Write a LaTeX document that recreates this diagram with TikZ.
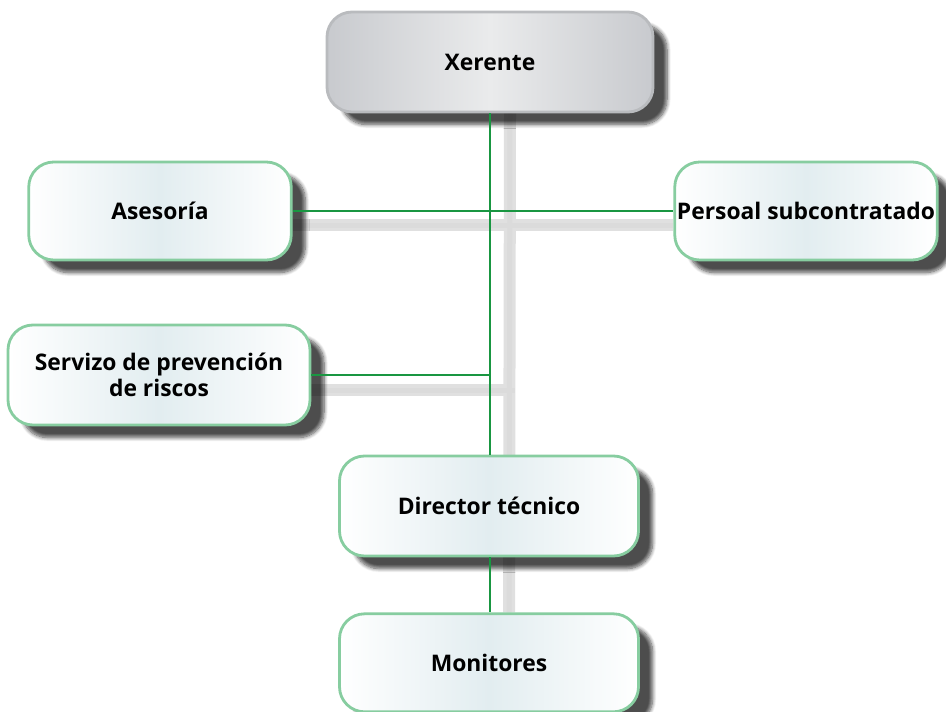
\documentclass[tikz,border=0pt]{standalone}
\usepackage{fontspec}
\setmainfont{Open Sans}
\usepackage{tikz}
\usetikzlibrary{positioning,shadows,shadows.blur,backgrounds}
\definecolor{orggreen}{RGB}{25,150,65}
\definecolor{orgborder}{RGB}{135,205,160}
\definecolor{orgfill}{RGB}{226,237,240}
\definecolor{orggray}{RGB}{200,202,206}
\definecolor{orggraymid}{RGB}{234,235,236}
\definecolor{orggrayline}{RGB}{185,187,190}
\tikzstyle{unitbox} = [rectangle, rounded corners=0.5cm, minimum width=5.25cm, minimum height=1.96cm, align=center, inner xsep=0pt, draw=orgborder, line width=1.6pt, left color=white, right color=white, middle color=orgfill, font=\bfseries\fontsize{13}{15}\selectfont, blur shadow={shadow xshift=0.28cm, shadow yshift=-0.25cm, shadow blur steps=8, shadow opacity=70}]
\tikzstyle{headbox} = [unitbox, draw=orggrayline, left color=orggray, right color=orggray, middle color=orggraymid]
\tikzstyle{link} = [line width=1.6pt, color=orggreen]
\tikzstyle{linkshadow} = [line width=0.24cm, color=black!12]
\tikzstyle{linkshadowcore} = [line width=0.1cm, color=black!14]

\begin{document}
\begin{tikzpicture}
\useasboundingbox (0,0) rectangle (18.92,14.22);
% Top level
\node[headbox, minimum width=6.52cm, minimum height=2cm] (xerente) at (9.8,12.98) {Xerente};

% Staff units
\node[unitbox] (asesoria) at (3.2,10.0) {Asesoría};
\node[unitbox] (persoal) at (16.12,10.0) {Persoal subcontratado};
\node[unitbox, minimum width=6.04cm, minimum height=2cm] (servizo) at (3.18,6.72) {Servizo de prevención\\de riscos};

% Line units
\node[unitbox, minimum width=5.98cm, minimum height=2cm] (director) at (9.78,4.1) {Director técnico};
\node[unitbox, minimum width=5.98cm, minimum height=1.96cm, below=1.1cm of director] (monitores) {Monitores};

% Shadows of the connections
\begin{scope}[on background layer]
\draw[linkshadow] ([xshift=0.4cm]xerente.south) -- ([xshift=0.4cm]monitores.north);
\draw[linkshadow] ([yshift=-0.28cm]asesoria.east) -- ([yshift=-0.28cm]persoal.west);
\draw[linkshadow] ([yshift=-0.3cm]servizo.east) -- ([xshift=0.5cm,yshift=-0.3cm]servizo.east -| xerente.south);
\draw[linkshadowcore] ([xshift=0.4cm]xerente.south) -- ([xshift=0.4cm]monitores.north);
\draw[linkshadowcore] ([yshift=-0.28cm]asesoria.east) -- ([yshift=-0.28cm]persoal.west);
\draw[linkshadowcore] ([yshift=-0.3cm]servizo.east) -- ([xshift=0.5cm,yshift=-0.3cm]servizo.east -| xerente.south);
\end{scope}

% Connections
\draw[link] (xerente.south) -- (xerente.south |- director.north);
\draw[link] (asesoria.east) -- (persoal.west);
\draw[link] (servizo.east) -- (servizo.east -| xerente.south);
\draw[link] (director.south -| xerente.south) -- (monitores.north -| xerente.south);
\end{tikzpicture}
\end{document}
